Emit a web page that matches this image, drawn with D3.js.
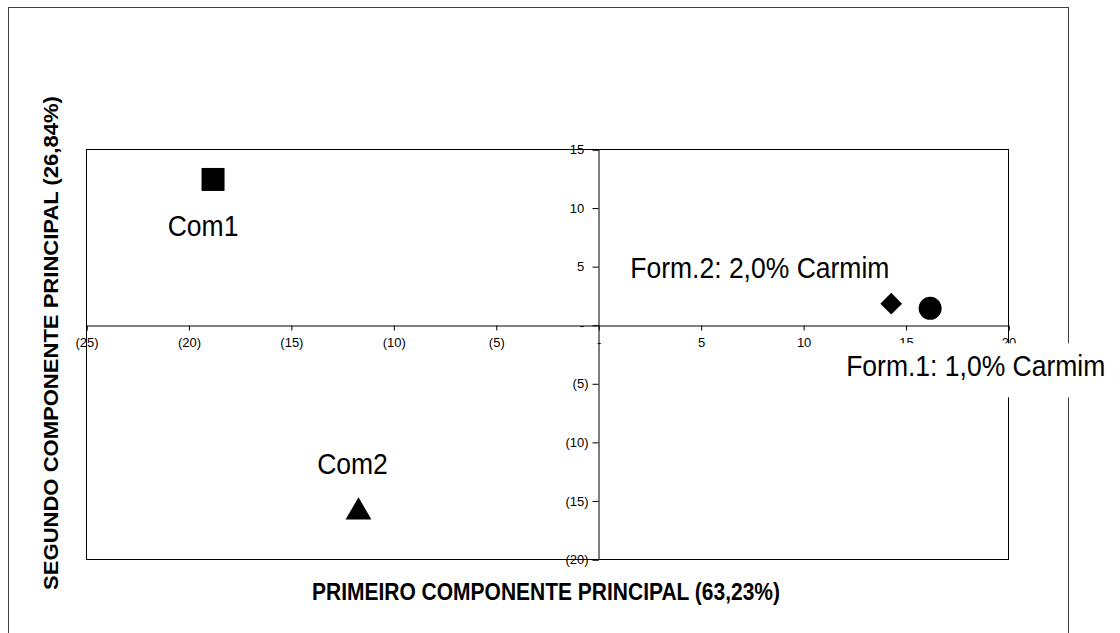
<!DOCTYPE html>
<html><head><meta charset="utf-8">
<script src="https://cdn.jsdelivr.net/npm/d3@7"></script>
<style>body{margin:0;background:#fff}svg{display:block}text{font-family:"Liberation Sans",Arial,sans-serif}</style>
</head><body>
<script>
// ---- data ----
const names = ["Com1", "Com2", "Form.2: 2,0% Carmim", "Form.1: 1,0% Carmim"];
const pc1 = [-18.8, -11.7, 14.3, 16.2];
const pc2 = [12.4, -16.0, 1.8, 1.4];
const shapes = ["square", "triangle", "diamond", "circle"];
const xTicks = [-25, -20, -15, -10, -5, 0, 5, 10, 15, 20];
const yTicks = [-20, -15, -10, -5, 0, 5, 10, 15];
const xTitle = "PRIMEIRO COMPONENTE PRINCIPAL (63,23%)";
const yTitle = "SEGUNDO COMPONENTE PRINCIPAL (26,84%)";

const W = 1120, H = 633;
const svg = d3.select("body").append("svg").attr("width", W).attr("height", H);
const pl = {left: 86, top: 149, right: 1008, bottom: 559};
const x = d3.scaleLinear().domain([-25, 20]).range([pl.left, pl.right]);
const y = d3.scaleLinear().domain([-20, 15]).range([pl.bottom, pl.top]);

const fmt = v => v < 0 ? "(" + Math.abs(v) + ")" : (v === 0 ? "-" : String(v));

// outer frame
svg.append("rect").attr("x", 8.5).attr("y", 7.5).attr("width", 1060).attr("height", 700)
  .attr("fill", "#fff").attr("stroke", "#404040").attr("stroke-width", 1);
// plot area
svg.append("rect").attr("x", pl.left + 0.5).attr("y", pl.top + 0.5)
  .attr("width", pl.right - pl.left).attr("height", pl.bottom - pl.top)
  .attr("fill", "none").attr("stroke", "#000").attr("stroke-width", 1);

// axes through origin
const xAxis = d3.axisBottom(x).tickValues(xTicks).tickSize(5).tickPadding(7).tickFormat(fmt);
const gx = svg.append("g").attr("transform", `translate(0.5,${Math.round(y(0)) + 0.5})`).call(xAxis);
const yAxis = d3.axisLeft(y).tickValues(yTicks).tickSize(6).tickPadding(4).tickFormat(fmt);
const gy = svg.append("g").attr("transform", `translate(${Math.round(x(0)) + 0.5},0.5)`).call(yAxis);
[gx, gy].forEach(g => {
  g.select(".domain").attr("stroke", "#000");
  g.selectAll(".tick line").attr("stroke", "#000");
  g.selectAll(".tick text").attr("font-size", 13).attr("fill", "#000")
    .attr("font-family", '"Liberation Sans",Arial,sans-serif');
});
gy.selectAll(".tick text").attr("dx", d => d >= 0 ? -4.3 : 0);

// markers
const sym = {square: d3.symbolSquare, triangle: d3.symbolTriangle, diamond: d3.symbolDiamond2, circle: d3.symbolCircle};
const area = {square: 529, triangle: 290, diamond: 300, circle: 415};
svg.append("g").selectAll("path").data(names).join("path")
  .attr("transform", (d, i) => `translate(${x(pc1[i])},${y(pc2[i])})`)
  .attr("d", (d, i) => d3.symbol(sym[shapes[i]], area[shapes[i]])())
  .attr("fill", "#000");

// data labels (offsets relative to their points)
const lab = [
  {dx: -10, dy: 57, anchor: "middle", box: false},
  {dx: -6, dy: -38, anchor: "middle", box: false},
  {dx: -261, dy: -26, anchor: "start", box: false},
  {dx: -84, dy: 68, anchor: "start", box: true}
];
const lg = svg.append("g");
names.forEach((n, i) => {
  const L = lab[i];
  const tx = x(pc1[i]) + L.dx, ty = y(pc2[i]) + L.dy;
  if (L.box) {
    lg.append("rect").attr("x", tx - 4).attr("y", ty - 33).attr("width", 268).attr("height", 54).attr("fill", "#fff");
  }
  lg.append("text").attr("transform", `translate(${tx},${ty}) scale(1.02,1.1)`).attr("text-anchor", L.anchor)
    .attr("font-size", 26).attr("fill", "#000").text(n);
});

// axis titles
svg.append("text").attr("transform", "translate(546,600) scale(1,1.1)").attr("text-anchor", "middle")
  .attr("font-size", 21).attr("font-weight", "bold").text(xTitle);
svg.append("text").attr("transform", "translate(58,343) rotate(-90) scale(1.05,1)").attr("text-anchor", "middle")
  .attr("font-size", 21).attr("font-weight", "bold").text(yTitle);
</script>
</body></html>
